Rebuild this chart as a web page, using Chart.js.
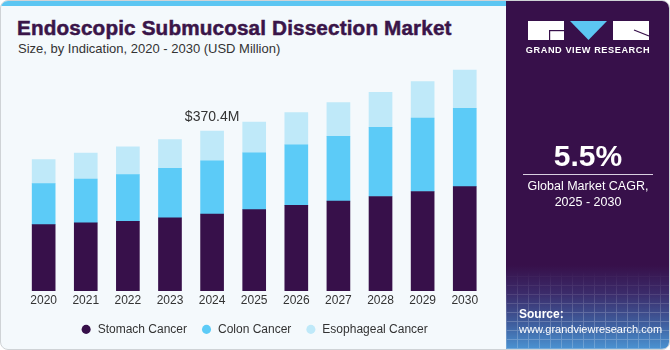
<!DOCTYPE html>
<html>
<head>
<meta charset="utf-8">
<script src="https://cdn.jsdelivr.net/npm/chart.js@4.4.1/dist/chart.umd.min.js"></script>
<style>
  html, body { margin:0; padding:0; background:#ffffff; }
  #wrap { position:relative; width:668px; height:348px; background:#f4f9fc; border:1px solid #cfd3d6; border-radius:8px; overflow:hidden; font-family:"Liberation Sans", Arial, sans-serif; }
  #topbar { position:absolute; left:0; top:0; width:506px; height:5px; background:#5cc6f2; }
  #title { position:absolute; left:16px; top:15px; font-size:20.7px; font-weight:bold; color:#3a1549; white-space:nowrap; -webkit-text-stroke:0.5px #3a1549; letter-spacing:0.15px; }
  #subtitle { position:absolute; left:17px; top:40px; font-size:13px; color:#333333; white-space:nowrap; }
  #cv { position:absolute; left:0; top:0; }
  #panel { position:absolute; left:505px; top:-1px; width:164px; height:349px; border-top-right-radius:8px;
    background: linear-gradient(180deg, #37104a 0%, #37104a 76%, #3b2b6a 84%, #3f5f9f 93%, #4a93d2 100%); overflow:hidden; }
  #grid { position:absolute; left:0; top:270px; width:164px; height:79px; opacity:0.22;
    background-image: repeating-linear-gradient(90deg, rgba(255,255,255,0.9) 0 1px, transparent 1px 11px),
                      repeating-linear-gradient(0deg, rgba(255,255,255,0.9) 0 1px, transparent 1px 9px);
    -webkit-mask-image: linear-gradient(180deg, transparent 0%, #000 60%); }
  #gvr { position:absolute; left:0; width:164px; top:45px; text-align:center; font-size:9.2px; font-weight:bold; color:#ffffff; letter-spacing:0.55px; }
  #cagr { position:absolute; left:0; width:164px; top:139px; text-align:center; font-size:30px; font-weight:bold; color:#ffffff; }
  #rule { position:absolute; left:17px; width:130px; top:174px; height:1px; background:#d9cfe0; }
  #cagrtxt { position:absolute; left:0; width:164px; top:178px; text-align:center; font-size:12.5px; color:#ffffff; line-height:16px; }
  #src { position:absolute; left:13px; top:307px; font-size:11px; color:#ffffff; line-height:15px; }
  #src b { font-size:12px; }
</style>
</head>
<body>
<div id="wrap">
  <div id="topbar"></div>
  <div id="title">Endoscopic Submucosal Dissection Market</div>
  <div id="subtitle">Size, by Indication, 2020 - 2030 (USD Million)</div>
  <canvas id="cv" width="506" height="350"></canvas>
  <div id="panel">
    <div id="grid"></div>
    <svg width="164" height="42" style="position:absolute;left:0;top:0">
      <rect x="22" y="21" width="36" height="19" fill="#ffffff"/>
      <rect x="43" y="30" width="15" height="1.2" fill="#37104a"/>
      <rect x="43" y="30" width="1.2" height="10" fill="#37104a"/>
      <polygon points="64,21 101,21 82.5,40" fill="#5cc6f2"/>
      <rect x="107" y="21" width="36" height="19" fill="#ffffff"/>
      <line x1="128" y1="30" x2="143" y2="36" stroke="#37104a" stroke-width="1.2"/>
    </svg>
    <div id="gvr">GRAND VIEW RESEARCH</div>
    <div id="cagr">5.5%</div>
    <div id="rule"></div>
    <div id="cagrtxt">Global Market CAGR,<br>2025 - 2030</div>
    <div id="src"><b>Source:</b><br>www.grandviewresearch.com</div>
  </div>
</div>
<script>
const years = ['2020','2021','2022','2023','2024','2025','2026','2027','2028','2029','2030'];
const stomachCancer    = [153.8, 157.7, 161.4, 169.2, 178.4, 188.3, 198.1, 208.2, 218.8, 230.3, 241.8];
const colonCancer      = [ 94.8, 101.7, 107.9, 114.8, 123.1, 131.6, 140.1, 149.9, 160.0, 169.9, 181.4];
const esophagealCancer = [ 56.0,  59.7,  64.3,  66.6,  68.9,  71.2,  75.1,  78.1,  81.0,  85.0,  88.2];
const annotationIndex = 4;
const annotationText = '$370.4M';

const annotate = {
  id: 'annotate',
  afterDatasetsDraw(chart) {
    const meta = chart.getDatasetMeta(chart.data.datasets.length - 1);
    const bar = meta.data[annotationIndex];
    const ctx = chart.ctx;
    ctx.save();
    ctx.font = '14px "Liberation Sans", Arial, sans-serif';
    ctx.fillStyle = '#333333';
    ctx.textAlign = 'center';
    ctx.textBaseline = 'alphabetic';
    ctx.fillText(annotationText, bar.x, bar.y - 10);
    ctx.restore();
  }
};

new Chart(document.getElementById('cv'), {
  type: 'bar',
  data: {
    labels: years,
    datasets: [
      { label: 'Stomach Cancer', data: stomachCancer, backgroundColor: '#37104a' },
      { label: 'Colon Cancer', data: colonCancer, backgroundColor: '#5ccbf7' },
      { label: 'Esophageal Cancer', data: esophagealCancer, backgroundColor: '#bfe9f9' }
    ]
  },
  options: {
    responsive: false,
    animation: false,
    devicePixelRatio: 1,
    layout: { padding: { left: 21.6, right: 21.2, top: 56.8, bottom: 5.6 } },
    datasets: { bar: { barThickness: 23, borderWidth: 0 } },
    scales: {
      x: {
        stacked: true,
        grid: { display: false, drawTicks: false },
        border: { display: false },
        ticks: { color: '#333333', padding: 2, font: { family: '"Liberation Sans", Arial, sans-serif', size: 12 } }
      },
      y: {
        stacked: true,
        display: false,
        min: 0,
        max: 540
      }
    },
    plugins: {
      tooltip: { enabled: false },
      legend: {
        position: 'bottom',
        labels: {
          usePointStyle: true,
          pointStyle: 'circle',
          boxWidth: 11,
          boxHeight: 6.4,
          padding: 14,
          color: '#333333',
          font: { family: '"Liberation Sans", Arial, sans-serif', size: 12 }
        }
      }
    }
  },
  plugins: [annotate]
});
</script>
</body>
</html>
